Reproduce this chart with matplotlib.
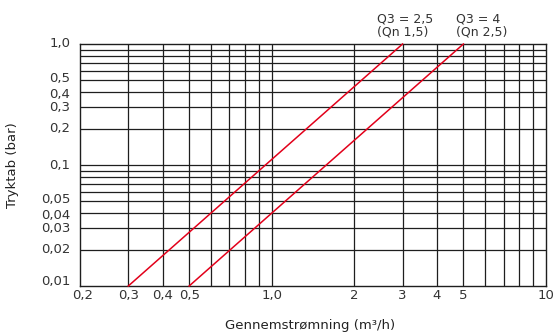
import matplotlib
matplotlib.use("Agg")
import matplotlib.pyplot as plt
import matplotlib.transforms as mtransforms
from matplotlib.ticker import FixedLocator, NullLocator

# Data
flow_q25 = [0.3, 3.0]      # m3/h
drop_q25 = [0.01, 1.0]     # bar
flow_q4 = [0.5, 5.0]
drop_q4 = [0.01, 1.0]

x_ticks = [0.2, 0.3, 0.4, 0.5, 1.0, 2, 3, 4, 5, 10]
x_labels = ["0,2", "0,3", "0,4", "0,5", "1,0", "2", "3", "4", "5", "10"]
y_ticks = [0.01, 0.02, 0.03, 0.04, 0.05, 0.1, 0.2, 0.3, 0.4, 0.5, 1.0]
y_labels = ["0,01", "0,02", "0,03", "0,04", "0,05", "0,1", "0,2", "0,3", "0,4", "0,5", "1,0"]
x_grid = [0.3, 0.4, 0.5, 0.6, 0.7, 0.8, 0.9, 1, 2, 3, 4, 5, 6, 7, 8, 9]
y_grid = [0.02, 0.03, 0.04, 0.05, 0.06, 0.07, 0.08, 0.09,
          0.1, 0.2, 0.3, 0.4, 0.5, 0.6, 0.7, 0.8, 0.9]
curve_labels = ["Q3 = 2,5\n(Qn 1,5)", "Q3 = 4\n(Qn 2,5)"]

plt.rcParams['font.family'] = ['DejaVu Sans']

fig = plt.figure(figsize=(5.56, 3.35), dpi=100)
ax = fig.add_axes([80/556, 49/335, 466/556, 242/335])
ax.set_xscale('log')
ax.set_yscale('log')
ax.set_xlim(0.2, 10)
ax.set_ylim(0.01, 1.0)

gc = '#1e1e1e'
for xv in x_grid:
    ax.axvline(xv, color=gc, lw=0.9, zorder=1)
for yv in y_grid:
    ax.axhline(yv, color=gc, lw=0.9, zorder=1)

red = '#e2001a'
ax.plot(flow_q25, drop_q25, color=red, lw=1.1, zorder=3, clip_on=False)
ax.plot(flow_q4, drop_q4, color=red, lw=1.1, zorder=3, clip_on=False)

for s in ax.spines.values():
    s.set_color(gc)
    s.set_linewidth(1.0)

ax.xaxis.set_major_locator(NullLocator())
ax.xaxis.set_minor_locator(NullLocator())
ax.yaxis.set_major_locator(NullLocator())
ax.yaxis.set_minor_locator(NullLocator())

tc = '#333333'
fs = 9.5
# y tick labels (small vertical nudges, in points, like the reference)
y_nudge = {0.01: 3, 0.04: -1.5, 0.05: 1.5, 0.4: -1.5, 0.5: 1.5}
ytrans = ax.get_yaxis_transform()
for v, lab in zip(y_ticks, y_labels):
    off = mtransforms.ScaledTranslation(-7/72, y_nudge.get(v, 0)/72, fig.dpi_scale_trans)
    ax.text(0, v, lab, transform=ytrans + off, ha='right', va='center',
            fontsize=fs, color=tc, clip_on=False)
# x tick labels
x_nudge = {0.2: 2}
xtrans = ax.get_xaxis_transform()
for v, lab in zip(x_ticks, x_labels):
    off = mtransforms.ScaledTranslation(x_nudge.get(v, 0)/72, -2/72, fig.dpi_scale_trans)
    ax.text(v, 0, lab, transform=xtrans + off, ha='center', va='top',
            fontsize=fs, color=tc, clip_on=False)

fig.text(310/556, 1 - 325/335, "Gennemstrømning (m³/h)", fontsize=9.5,
         ha='center', va='center', color='#222222')
fig.text(13/556, 1 - 165/335, "Tryktab (bar)", fontsize=9.5, rotation=90,
         ha='center', va='center', color='#222222')

ax.annotate(curve_labels[0], xy=(flow_q25[1], drop_q25[1]), xytext=(-18.5, 4),
            textcoords='offset points', ha='left', va='bottom', fontsize=9,
            color=tc, linespacing=1.0)
ax.annotate(curve_labels[1], xy=(flow_q4[1], drop_q4[1]), xytext=(-5.5, 4),
            textcoords='offset points', ha='left', va='bottom', fontsize=9,
            color=tc, linespacing=1.0)

fig.savefig("out.png", dpi=100)
